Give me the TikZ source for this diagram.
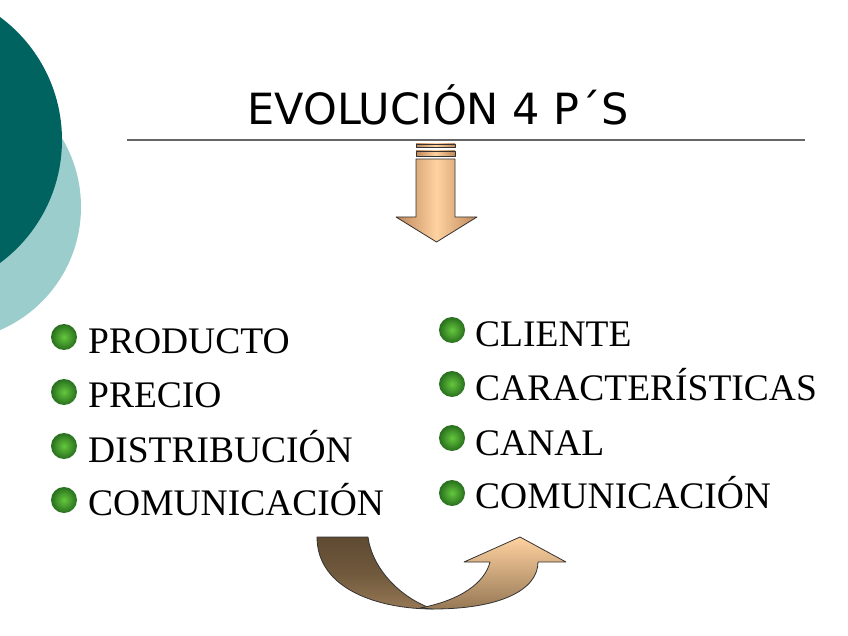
\documentclass[tikz,border=0pt]{standalone}
\usepackage{fontspec}
\setmainfont{Liberation Serif}
\newfontfamily\titlefont{DejaVu Sans}
\usetikzlibrary{shadings}
\definecolor{darkteal}{RGB}{0,99,96}
\definecolor{lightteal}{RGB}{156,205,205}
\definecolor{tanedge}{RGB}{190,135,90}
\definecolor{tanmid}{RGB}{255,210,160}
\definecolor{browndark}{RGB}{95,75,50}
\definecolor{brownmid}{RGB}{150,120,85}
\definecolor{bulletin}{RGB}{100,200,60}
\definecolor{bulletout}{RGB}{40,110,30}
\tikzset{
  item/.style={anchor=base west, inner sep=0pt, font=\fontsize{37.5}{38}\selectfont},
  bullet/.style={circle, minimum size=26pt, inner sep=0pt, inner color=bulletin, outer color=bulletout},
  arrowpart/.style={draw=black!80, line width=0.8pt, line join=round}
}
\begin{document}
\begin{tikzpicture}[x=1pt,y=-1pt]
\useasboundingbox (0,0) rectangle (848,636);
% background circles
\fill[lightteal] (-53,207) circle (134);
\fill[darkteal] (-91,140) circle (153);
% title
\node[anchor=base, inner sep=0pt, font=\titlefont\fontsize{43}{43}\selectfont] (title) at (438,125) {EVOLUCIÓN 4 P´S};
\draw[line width=1.8pt, black!60] (127,140) -- (805,140);
% down arrow
\shade[arrowpart, left color=tanedge, right color=tanedge, middle color=tanmid] (416,144) rectangle (455,147.5);
\shade[arrowpart, left color=tanedge, right color=tanedge, middle color=tanmid] (416,151) rectangle (455,156);
\shade[arrowpart, left color=tanedge, right color=tanedge, middle color=tanmid]
  (416,159) -- (455,159) -- (455,217) -- (477,217) -- (436.5,242) -- (396,217) -- (416,217) -- cycle;
% left column
\node[bullet] (b1) at (64,337) {};
\node[item] (l1) at (88,353) {PRODUCTO};
\node[bullet] (b2) at (64,392) {};
\node[item] (l2) at (88,407) {PRECIO};
\node[bullet] (b3) at (64,446) {};
\node[item] (l3) at (88,462) {DISTRIBUCIÓN};
\node[bullet] (b4) at (64,500) {};
\node[item] (l4) at (88,515) {COMUNICACIÓN};
% right column
\node[bullet] (r1b) at (452,330) {};
\node[item] (r1) at (475,346) {CLIENTE};
\node[bullet] (r2b) at (452,384) {};
\node[item] (r2) at (475,400) {CARACTERÍSTICAS};
\node[bullet] (r3b) at (452,438) {};
\node[item] (r3) at (475,455) {CANAL};
\node[bullet] (r4b) at (452,493) {};
\node[item] (r4) at (475,508) {COMUNICACIÓN};
% bottom curved arrow
\shade[arrowpart, top color=browndark, bottom color=brownmid, middle color=browndark!70!brownmid]
  (317,537) -- (368,537) .. controls (372,568) and (400,598) .. (433,609)
  .. controls (380,609) and (317,590) .. (317,537) -- cycle;
\shade[arrowpart, top color=tanmid, bottom color=brownmid]
  (433,609) .. controls (500,609) and (538,590) .. (538,562)
  -- (566,562) -- (520,537) -- (464,562) -- (490,562)
  .. controls (485,582) and (462,600) .. (420,608) -- cycle;
\end{tikzpicture}
\end{document}
